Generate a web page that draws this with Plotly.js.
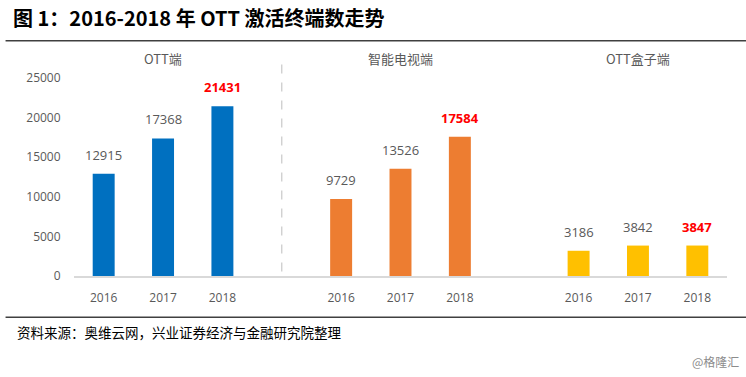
<!DOCTYPE html>
<html><head><meta charset="utf-8">
<script src="https://cdn.plot.ly/plotly-3.0.1.min.js"></script>
<style>html,body{margin:0;padding:0;background:#fff;}#chart{width:746px;height:377px;}</style>
</head><body><div id="chart"></div>
<script>
const years = ["2016","2017","2018"];
const groups = ["OTT端","智能电视端","OTT盒子端"];
const ottValues = [12915,17368,21431];
const tvValues = [9729,13526,17584];
const boxValues = [3186,3842,3847];
const yTicks = [0,5000,10000,15000,20000,25000];

const colors = ["#0070C0","#ED7D31","#FFC000"];
const series = [ottValues, tvValues, boxValues];

const catArray = [], tickVals = [], tickText = [];
groups.forEach((g,gi)=>{
  years.forEach(y=>{ catArray.push(g+" "+y); tickVals.push(g+" "+y); tickText.push(y); });
  if (gi < groups.length-1) catArray.push("gap"+gi);
});

const traces = groups.map((g,gi)=>({
  type:'bar',
  x: years.map(y=>g+" "+y),
  y: series[gi],
  width: 0.37,
  marker:{color:colors[gi], line:{width:0}},
  hoverinfo:'x+y',
  showlegend:false
}));

const annotations = [];
groups.forEach((g,gi)=>{
  years.forEach((y,yi)=>{
    const last = yi === years.length-1;
    annotations.push({
      x: g+" "+y, y: series[gi][yi], xref:'x', yref:'y',
      text: last ? '<b>'+series[gi][yi]+'</b>' : String(series[gi][yi]),
      showarrow:false, yanchor:'middle', yshift:19,
      font:{family:'Open Sans, Noto Sans, sans-serif', size: 13, color: last ? '#FF0000' : '#595959'}
    });
  });
  annotations.push({
    x: g+" 2017", y: 1, xref:'x', yref:'paper', yanchor:'middle', yshift:20,
    text: g, showarrow:false,
    font:{family:'Noto Sans CJK SC, Open Sans, sans-serif', size:13, color:'#595959'}
  });
});
annotations.push({
  xref:'paper', yref:'paper', x:(10-73.5)/653.5, y:(276.5-17)/199, xanchor:'left', yanchor:'middle',
  text:'<b>图 1：2016-2018 年 OTT 激活终端数走势</b>', showarrow:false,
  font:{family:'Noto Sans CJK SC, sans-serif', size:20, color:'#000'}
});
annotations.push({
  xref:'paper', yref:'paper', x:(14-73.5)/653.5, y:(276.5-333)/199, xanchor:'left', yanchor:'middle',
  text:'资料来源：奥维云网，兴业证券经济与金融研究院整理', showarrow:false,
  font:{family:'Noto Sans CJK SC, sans-serif', size:13.5, color:'#000'}
});
annotations.push({
  xref:'paper', yref:'paper', x:(741-73.5)/653.5, y:(276.5-362)/199, xanchor:'right', yanchor:'middle',
  text:'@格隆汇', showarrow:false,
  font:{family:'Noto Sans CJK SC, sans-serif', size:12, color:'#8c8c8c'}
});

const shapes = [
  {type:'line', xref:'paper', yref:'paper', x0:(5-73.5)/653.5, x1:(746-73.5)/653.5, y0:(276.5-40)/199, y1:(276.5-40)/199, line:{color:'#404040', width:1.5}},
  {type:'line', xref:'paper', yref:'paper', x0:(5-73.5)/653.5, x1:(746-73.5)/653.5, y0:(276.5-318)/199, y1:(276.5-318)/199, line:{color:'#404040', width:1.5}},
  {type:'line', xref:'x', yref:'paper', x0:3, x1:3, y0:(276.5-272)/199, y1:(276.5-60)/199, line:{color:'#c8c8c8', width:1.2, dash:'dash'}}
];

const layout = {
  width:746, height:377,
  margin:{l:73.5, r:19, t:77.5, b:100.5},
  paper_bgcolor:'#fff', plot_bgcolor:'#fff',
  xaxis:{type:'category', categoryorder:'array', categoryarray:catArray,
    tickvals:tickVals, ticktext:tickText, range:[-0.5, catArray.length-0.5],
    showline:true, linecolor:'#d9d9d9', linewidth:1.5, showgrid:false, zeroline:false,
    ticks:'outside', ticklen:10, tickcolor:'rgba(0,0,0,0)',
    tickfont:{family:'Open Sans, Noto Sans, sans-serif', size:12, color:'#595959'}, fixedrange:true},
  yaxis:{range:[0,25000], tickvals:yTicks, tickformat:'d', showgrid:false, zeroline:false, showline:false,
    ticks:'outside', ticklen:10, tickcolor:'rgba(0,0,0,0)',
    tickfont:{family:'Open Sans, Noto Sans, sans-serif', size:12, color:'#595959'}, fixedrange:true},
  annotations, shapes
};
Plotly.newPlot('chart', traces, layout, {displayModeBar:false, staticPlot:true});
</script></body></html>
